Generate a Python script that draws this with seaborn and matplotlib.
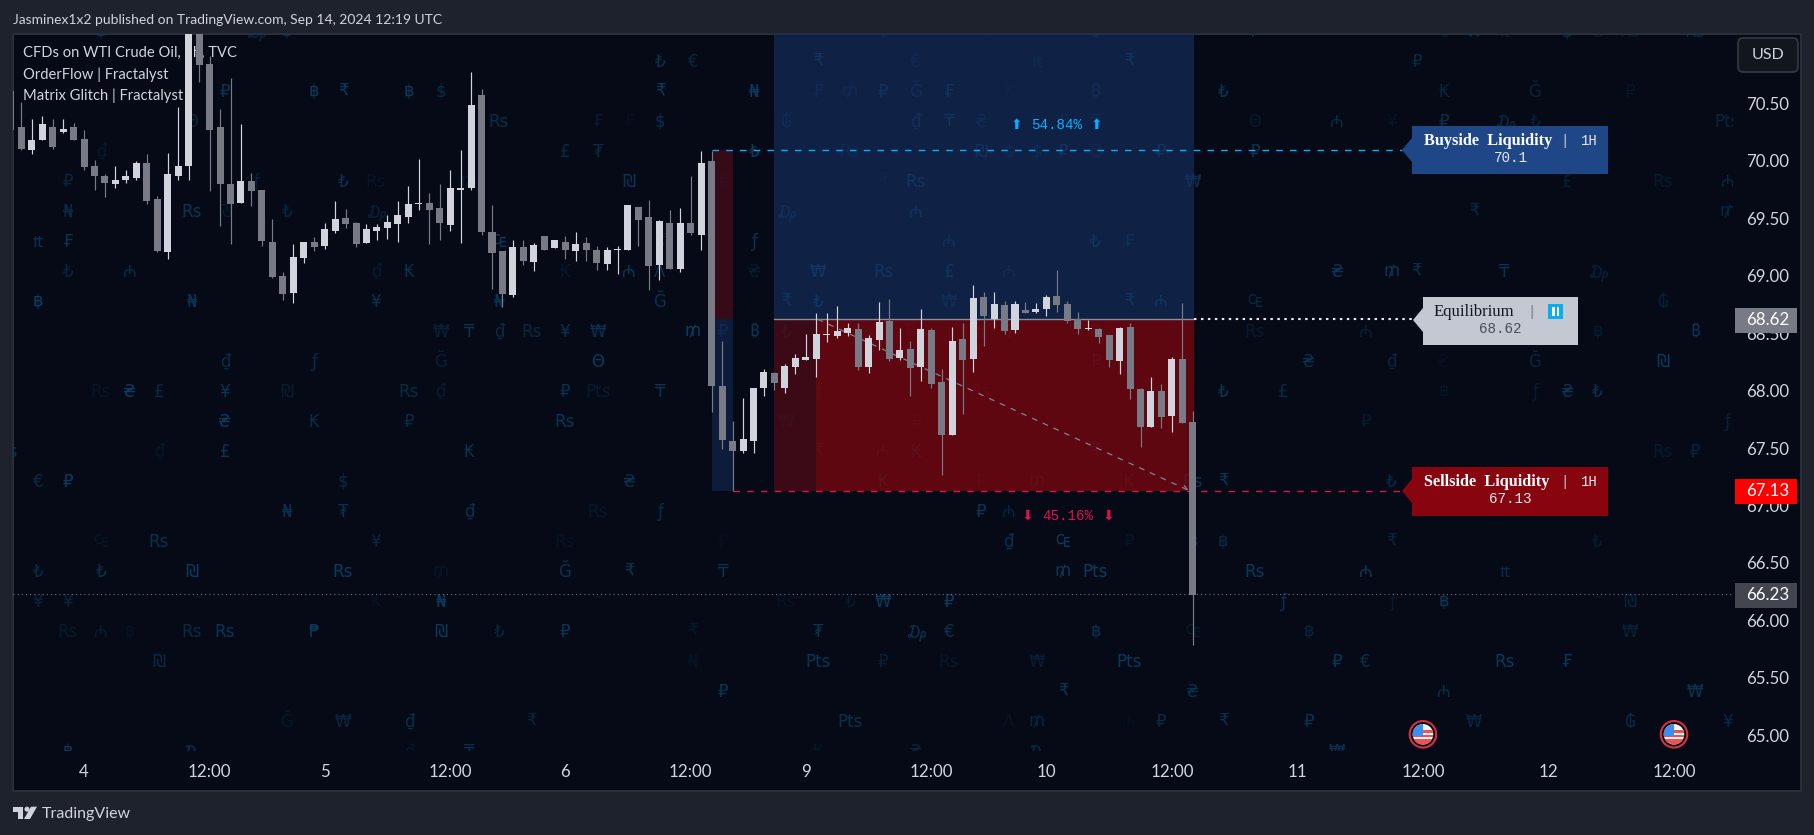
import numpy as np
import pandas as pd
import matplotlib
matplotlib.use("Agg")
import matplotlib.pyplot as plt
from matplotlib.patches import Rectangle, Polygon, Ellipse, FancyBboxPatch
from matplotlib.transforms import IdentityTransform
import seaborn as sns

# ---------- candle data (hourly WTI) ----------
OPENS = [70.61,
 70.29,70.09,70.177,70.298,70.255,70.29,70.194,69.951,69.872,69.794,69.829,69.846,69.977,69.664,69.203,69.872,
 69.951,71.3,70.846,70.29,69.794,69.637,69.82,69.75,69.29,68.994,68.846,69.151,69.29,69.255,69.385,69.498,69.455,
 69.281,69.385,69.411,69.446,69.507,69.62,69.629,69.585,69.437,69.742,69.759,70.576,69.376,69.211,68.829,69.246,
 69.115,69.342,69.237,69.289,69.211,69.281,69.22,69.098,69.22,69.22,69.602,69.507,69.089,69.463,69.055,69.463,
 69.35,69.994,68.037,67.559,67.472,67.559,68.02,68.15,68.02,68.202,68.263,68.272,68.481,68.472,68.498,68.533,
 68.203,68.437,68.603,68.281,68.359,68.203,68.524,68.072,67.611,68.446,68.272,68.811,68.62,68.742,68.524,68.698,
 68.681,68.707,68.82,68.75,68.62,68.533,68.533,68.481,68.255,68.55,68.011,67.681,67.994,67.776,68.272,67.724]
HIGHS = [70.61,
 70.516,70.36,70.394,70.36,70.368,70.333,70.264,70.011,69.881,69.959,69.924,69.994,70.055,69.69,70.064,70.472,
 71.4,71.4,70.916,70.455,70.724,70.316,69.89,69.75,69.49,69.029,69.272,69.29,69.333,69.455,69.646,69.577,69.464,
 69.446,69.446,69.524,69.646,69.785,70.02,69.724,69.794,69.924,70.098,70.776,70.629,69.611,69.211,69.307,69.307,
 69.281,69.342,69.315,69.342,69.376,69.333,69.255,69.246,69.255,69.611,69.602,69.655,69.481,69.568,69.585,69.872,
 70.081,70.089,68.429,67.733,67.933,68.02,68.185,68.159,68.229,68.315,68.49,68.672,68.672,68.733,68.585,68.585,
 68.481,68.768,68.794,68.542,68.429,68.707,68.542,68.185,68.55,68.585,68.916,68.855,68.855,68.776,68.776,68.768,
 68.759,68.829,69.046,68.776,68.681,68.611,68.542,68.481,68.55,68.585,68.02,68.116,68.055,68.289,68.759,67.82]
LOWS = [70.27,
 70.093,70.055,70.177,70.107,70.246,70.185,69.924,69.75,69.681,69.759,69.811,69.829,69.62,69.203,69.142,69.829,
 69.829,70.69,69.733,69.429,69.272,69.637,69.603,69.255,68.977,68.785,68.759,69.107,69.211,69.229,69.368,69.411,69.246,
 69.281,69.307,69.316,69.29,69.455,69.576,69.272,69.307,69.385,69.281,69.75,69.35,68.881,68.724,68.811,69.089,
 69.037,69.22,69.237,69.142,69.124,69.124,69.046,69.046,69.011,69.22,69.255,68.872,68.959,69.055,69.029,69.35,
 69.22,67.811,67.489,67.124,67.455,67.455,67.95,68.002,67.976,68.142,68.263,68.116,68.42,68.455,68.472,68.176,
 68.15,68.35,68.255,68.263,67.95,68.081,68.02,67.263,67.611,67.794,68.159,68.385,68.542,68.49,68.498,68.672,
 68.672,68.646,68.681,68.585,68.49,68.524,68.411,68.203,68.142,67.924,67.507,67.681,67.672,67.637,67.716,65.785]
CLOSES = [70.27,
 70.107,70.185,70.316,70.116,70.281,70.185,69.942,69.872,69.803,69.829,69.864,69.985,69.646,69.211,69.881,69.951,
 71.25,70.837,70.272,69.794,69.62,69.82,69.733,69.298,68.985,68.837,69.159,69.29,69.246,69.403,69.49,69.446,69.272,
 69.403,69.42,69.464,69.524,69.62,69.629,69.576,69.455,69.759,69.759,70.489,69.376,69.194,68.837,69.246,69.124,
 69.263,69.22,69.307,69.22,69.272,69.22,69.107,69.22,69.229,69.611,69.481,69.081,69.472,69.055,69.463,69.368,
 69.985,68.037,67.568,67.472,67.576,68.02,68.159,68.063,68.211,68.281,68.29,68.49,68.49,68.516,68.542,68.203,
 68.455,68.594,68.272,68.35,68.194,68.533,68.055,67.611,68.429,68.263,68.803,68.646,68.75,68.516,68.75,68.672,
 68.707,68.811,68.742,68.603,68.533,68.542,68.463,68.263,68.542,68.011,67.681,67.994,67.768,68.272,67.716,66.22]

# ---------- axis labels ----------
X_TICK_BARS = [6, 18, 29, 41, 52, 64, 75, 87, 98, 110, 122, 134, 146, 158]
X_TICK_LABELS = ["4", "12:00", "5", "12:00", "6", "12:00", "9", "12:00", "10", "12:00",
                 "11", "12:00", "12", "12:00"]
Y_TICKS = [65.0, 65.5, 66.0, 66.5, 67.0, 67.5, 68.0, 68.5, 69.0, 69.5, 70.0, 70.5]

# ---------- levels ----------
BUY_LEVEL = 70.09
EQ_LEVEL = 68.62
SELL_LEVEL = 67.13
LAST_PRICE = 66.23
BUY_PCT = "54.84%"
SELL_PCT = "45.16%"
EVENT_BARS = [134, 158]

# ---------- background currency glyphs: (column, sign, strength) per row ----------
GLYPH_COL_BARS = [1.6,4.46,7.62,10.39,13.16,16.3,19.47,22.44,25.4,28,30.75,33.9,37.07,40.1,42.8,45.67,48.8,
 51.98,55.13,58.1,61.06,64.2,67.1,70.05,73.1,76.17,79.2,82.4,85.5,88.69,91.75,94.4,97.1,99.6,102.7,105.9,108.96,
 112,114.9,117.9,120.6,123.1,125.8,128.5,131,133.4,136,138.9,141.8,144.7,147.8,150.7,153.8,156.9,160,163.1,-1.3]
GLYPH_ROWS = [
 [(2,"฿",.7),(7,"₯",.5),(8,"฿",.6),(27,"₸",.5),(30,"₹",.5),(34,"₿",.5),(39,"₽",.6),(46,"₿",.3),(47,"₩",.5),(48,"₶",.4),(50,"$",.6),(51,"Θ",.3),(52,"Rs",.35),(54,"Rs",.6)],
 [(20,"₺",.7),(21,"€",.5),(25,"₹",.9),(28,"€",.35),(32,"₶",.35),(35,"₹",.9),(45,"₽",.6)],
 [(6,"₽",.8),(9,"฿",.9),(10,"₹",.9),(12,"฿",.9),(13,"$",.6),(20,"₹",.9),(23,"₦",.9),(25,"₣",.45),(26,"₥",.35),(27,"₽",.8),(28,"Ğ",.5),(29,"₣",.8),(31,"₭",.15),(34,"₿",.45),(38,"₺",.8),(46,"₭",.5),(49,"Ğ",.45),(52,"₽",.2)],
 [(5,"Θ",.5),(15,"Rs",.65),(18,"₣",.3),(19,"₣",.1),(20,"$",.65),(24,"₲",.5),(28,"₫",.6),(29,"₸",.8),(30,"₴",.4),(33,"₣",.3),(34,"₸",.4),(39,"Θ",.3),(42,"₼",.6),(44,"¥",.2),(46,"₽",.7),(48,"₯",.6),(49,"₺",.4),(55,"Pts",.5)],
 [(2,"₫",.25),(17,"£",.6),(18,"₮",.6),(23,"₺",.9),(26,"Rs",.4),(30,"₪",.7),(31,"$",.35),(32,"$",.5),(33,"₽",.8),(34,"Θ",.35),(36,"₽",.8),(39,"₽",.8)],
 [(1,"₽",.5),(7,"ƒ",.4),(10,"₺",.7),(11,"Rs",.2),(14,"₥",.25),(19,"₪",.8),(22,"€",.5),(27,"₹",.15),(28,"Rs",.85),(37,"₩",.7),(50,"£",.4),(53,"Rs",.3),(55,"₼",.5)],
 [(1,"₦",.6),(5,"Rs",.8),(6,"₪",.3),(8,"₺",.5),(11,"₯",.4),(24,"₯",.55),(28,"₼",.8),(47,"₹",.6),(55,"₥",.5)],
 [(0,"₶",.7),(1,"₣",.8),(15,"₠",.9),(20,"₹",.3),(23,"ƒ",.7),(29,"₼",.6),(34,"₺",.8),(35,"₣",.6)],
 [(1,"₺",.5),(3,"₼",.6),(11,"₫",.3),(12,"₭",.7),(17,"₭",.2),(19,"₼",.8),(20,"Λ",.7),(23,"₴",.3),(25,"₩",.9),(27,"Rs",.8),(29,"£",.8),(31,"₼",.4),(42,"₴",.8),(44,"₥",.8),(45,"₹",.7),(48,"₸",.8),(51,"₯",.4)],
 [(0,"฿",1),(5,"₦",.8),(11,"¥",.7),(15,"₦",.8),(20,"Ğ",.7),(24,"₹",.8),(25,"₺",.9),(29,"₩",.55),(35,"₹",.9),(36,"₼",.9),(39,"₠",.55),(53,"₲",.4)],
 [(13,"₩",.4),(14,"₸",.8),(15,"₫",.6),(16,"Rs",.55),(17,"¥",.7),(18,"₩",.7),(21,"₥",.9),(22,"₽",.9),(23,"₿",.8),(24,"₺",.6),(28,"Rs",.3),(29,"₸",.3),(30,"₶",.5),(31,"₴",.4),(34,"₴",.4),(39,"Rs",.3),(43,"₼",.35),(50,"₽",.1),(51,"฿",.35),(54,"₿",.8)],
 [(6,"₫",.6),(9,"ƒ",.6),(13,"Ğ",.4),(18,"Θ",.9),(34,"₽",.5),(35,"₽",.3),(41,"₴",.7),(44,"₫",.5),(46,"₴",.1),(49,"Ğ",.5),(53,"₪",.9)],
 [(2,"Rs",.2),(3,"₴",.9),(4,"£",.6),(6,"¥",.8),(8,"₪",.35),(12,"Rs",.6),(13,"₫",.3),(17,"₽",.7),(18,"Pts",.3),(20,"₸",.8),(25,"ƒ",.4),(30,"Rs",.3),(31,"₽",.1),(38,"₺",.8),(40,"£",.6),(46,"฿",.2),(49,"ƒ",.3),(50,"₴",.8),(51,"₺",.7)],
 [(6,"₴",.9),(9,"₭",.6),(12,"₽",.6),(17,"Rs",.8),(24,"₩",.45),(28,"₽",.3),(43,"₽",.3),(55,"ƒ",.4)],
 [(56,"Rs",.7),(4,"₫",.2),(6,"£",.8),(14,"₭",.7),(25,"₹",.6),(27,"₼",.5),(28,"₭",.7),(34,"₹",.6),(53,"Rs",.3),(54,"₽",.45)],
 [(0,"€",.6),(1,"₽",.9),(10,"$",.6),(19,"₴",.7),(27,"₭",.7),(30,"₽",.2),(32,"₥",.5),(35,"₭",.5),(37,"Rs",.8),(38,"₹",.8),(44,"₺",.55)],
 [(8,"₦",.7),(10,"₮",.7),(14,"₫",.7),(18,"Rs",.25),(20,"ƒ",.6),(30,"₽",.8),(31,"₼",.5),(49,"₽",.1)],
 [(2,"₠",.2),(4,"Rs",.7),(11,"¥",.5),(17,"Rs",.15),(22,"₽",.1),(31,"₫",.7),(33,"₠",.9),(35,"₽",.2),(37,"฿",.5),(38,"฿",.6),(44,"₹",.5),(51,"₺",.3)],
 [(0,"₺",.6),(2,"₺",.7),(5,"₪",.9),(10,"Rs",.9),(13,"₥",.2),(17,"Ğ",.7),(19,"₹",.8),(22,"₸",.8),(33,"₥",.8),(34,"Pts",.9),(39,"Rs",.85),(43,"₼",.8),(48,"₶",.6)],
 [(0,"¥",.5),(1,"¥",.5),(11,"₭",.15),(13,"₦",.9),(24,"Rs",.15),(26,"₺",.3),(27,"₩",.9),(29,"₽",.9),(40,"ƒ",.7),(44,"ƒ",.3),(46,"฿",.85),(52,"₪",.5)],
 [(1,"Rs",.3),(2,"₼",.35),(3,"฿",.15),(5,"Rs",.6),(6,"Rs",.8),(9,"₱",.9),(13,"₪",.9),(15,"₺",.5),(17,"₽",.8),(21,"₹",.25),(25,"₮",.8),(28,"₯",.7),(29,"€",.7),(34,"฿",.7),(37,"₠",.3),(41,"฿",.5),(52,"₩",.4)],
 [(4,"₪",.6),(21,"₦",.15),(25,"Pts",.8),(27,"₽",.4),(29,"Rs",.25),(32,"₩",.35),(35,"Pts",.85),(42,"₽",.8),(43,"€",.65),(48,"Rs",.85),(50,"₣",.85)],
 [(22,"₽",.8),(33,"₹",.8),(37,"₴",.7),(46,"₼",.65),(54,"₩",.75)],
 [(8,"Ğ",.25),(10,"₩",.5),(12,"₫",.65),(16,"₹",.5),(26,"Pts",.7),(31,"Λ",.2),(32,"₥",.5),(35,"₼",.1),(36,"₽",.6),(38,"₹",.7),(41,"₽",.75),(47,"₩",.5),(52,"₲",.6),(55,"¥",.6)],
 [(1,"฿",.9),(5,"₯",.7),(12,"₫",.2),(14,"₸",.7),(25,"₭",.2),(28,"₴",.5),(32,"₯",.6),(42,"₩",.7)],
]
GLYPH_TOP_PRICE = 71.122
GLYPH_ROW_STEP = 0.2611

# ---------- palette ----------
OUTER = "#1e222d"; FRAME = "#2a2e39"; PANE = "#050a16"
UP = "#d1d4dc"; DOWN = "#787b86"; TXT = "#d1d4dc"
CYAN = "#0aaeff"; CRIM = "#e0104f"

sns.set_theme(style="dark", rc={"lines.scale_dashes": False, "axes.grid": False})
plt.rcParams["font.family"] = ["Lato", "DejaVu Sans"]

W, H = 1814, 835
fig = plt.figure(figsize=(W / 100, H / 100), dpi=100, facecolor=OUTER)
PL, PR, PT, PB = 13, 1733, 34, 751
ax = fig.add_axes([PL / W, 1 - PB / H, (PR - PL) / W, (PB - PT) / H], facecolor="none")

def X(px):  # picture x -> bar position
    return (px - 21.3) / 10.46
def Y(py):  # picture y -> price
    return 70 - (py - 160.8) / 114.9

fig.add_artist(Rectangle((12.5 / W, 1 - 790.5 / H), 1788 / W, 757 / H, transform=fig.transFigure,
                         fc=PANE, ec=FRAME, lw=1.4, zorder=-5))

# --- background glyphs
for r, row in enumerate(GLYPH_ROWS):
    for col, ch, lvl in row:
        ax.text(GLYPH_COL_BARS[col], GLYPH_TOP_PRICE - r * GLYPH_ROW_STEP, ch, ha="center", va="center",
                fontsize=12, color="#0c4a73", alpha=min(1, lvl * 0.85), zorder=1, clip_on=True,
                parse_math=False, family=["DejaVu Sans", "Noto Sans"])

# --- legend text behind the candles
for py, s in [(53, "CFDs on WTI Crude Oil, 1h, TVC"), (74.5, "OrderFlow | Fractalyst"),
              (95.5, "Matrix Glitch | Fractalyst")]:
    ax.text(X(23), Y(py), s, color=TXT, fontsize=10.6, va="center", ha="left", zorder=1.5)

# --- zones
def zone(b0, b1, p0, p1, fc, alpha):
    ax.add_patch(Rectangle((b0, p0), b1 - b0, p1 - p0, fc=fc, ec="none", alpha=alpha, zorder=2))
zone(X(711.7), X(732.7), EQ_LEVEL, BUY_LEVEL, "#430a18", .8)
zone(X(711.7), X(732.7), SELL_LEVEL, EQ_LEVEL, "#12244d", .7)
zone(X(774), X(1194), EQ_LEVEL, Y(PT), "#173266", .6)
zone(X(774), X(816), SELL_LEVEL, EQ_LEVEL, "#4a0a16", .8)
zone(X(816), X(1194), SELL_LEVEL, EQ_LEVEL, "#7d060e", .75)

# --- levels
ax.plot([X(712), X(1402)], [BUY_LEVEL] * 2, color=CYAN, lw=1.0, dashes=(4.7, 5.2), zorder=3)
ax.plot([X(733), X(1402)], [SELL_LEVEL] * 2, color=CRIM, lw=1.0, dashes=(4.7, 5.2), zorder=3)
ax.plot([X(774), X(1194)], [EQ_LEVEL] * 2, color="#8a8e99", lw=1.0, zorder=3)
ax.plot([X(1194), X(1413)], [EQ_LEVEL] * 2, color="#e6e8ee", lw=1.5, dashes=(1.8, 3.2), zorder=3)
ax.plot([X(PL), X(PR)], [LAST_PRICE] * 2, color="#6a6e7a", lw=0.8, dashes=(0.8, 2.2), zorder=3)
ax.annotate("", xy=(X(1189), SELL_LEVEL), xytext=(X(818), EQ_LEVEL), zorder=3,
            arrowprops=dict(arrowstyle="->", color="#80848f", lw=0.9, linestyle=(0, (3.5, 5)),
                            mutation_scale=9, shrinkA=0, shrinkB=0))

# --- candles
df = pd.DataFrame({"o": OPENS, "h": HIGHS, "l": LOWS, "c": CLOSES})
df["bar"] = np.arange(len(df)) - 1
df["top"] = df[["o", "c"]].max(axis=1)
df["bot"] = df[["o", "c"]].min(axis=1)
df["height"] = df["top"] - df["bot"]
df["rising"] = df["c"] >= df["o"]
wicks = ax.vlines(df["bar"], df["l"], df["h"], colors=[UP if r else DOWN for r in df["rising"]],
                  linewidth=0.85, zorder=4)
wicks.set_snap(True)
for rising, col in [(True, UP), (False, DOWN)]:
    part = df[df["rising"] == rising]
    sns.barplot(data=part, x="bar", y="height", bottom=part["bot"].to_numpy(), orient="x", native_scale=True,
                color=col, saturation=1, width=0.67, errorbar=None, linewidth=0, zorder=5, ax=ax,
                antialiased=False)

# --- percent labels
MONO = ["Liberation Mono", "DejaVu Sans Mono"]
ax.text(X(1057), Y(125), BUY_PCT, color=CYAN, fontsize=10.3, family=MONO, ha="center", va="center", zorder=3)
ax.text(X(1068), Y(516), SELL_PCT, color=CRIM, fontsize=10.3, family=MONO, ha="center", va="center", zorder=3)
for px, py, ch, c in [(1016.7, 125, "⬆", CYAN), (1096.7, 125, "⬆", CYAN), (1027, 516, "⬇", CRIM), (1108, 516, "⬇", CRIM)]:
    ax.text(X(px), Y(py), ch, color=c, fontsize=10, family="DejaVu Sans", ha="center", va="center", zorder=3)

# --- callouts
def callout(x0, x1, y0, y1, tip_x, tip_y, fc):
    pts = [(tip_x, tip_y), (x0, tip_y - 12), (x0, y0), (x1, y0), (x1, y1), (x0, y1), (x0, tip_y + 12)]
    ax.add_patch(Polygon([(X(a), Y(b)) for a, b in pts], closed=True, fc=fc, ec="none", zorder=6, clip_on=False))
SERIF = ["Liberation Serif", "DejaVu Serif"]
callout(1412, 1608, 126, 174, 1402, 150, "#1f4788")
callout(1412, 1608, 467, 516, 1402, 491, "#88050f")
callout(1423, 1578, 297, 345, 1413, 320, "#c4c8d3")
for y, title, val in [(141.3, "Buyside  Liquidity", f"{70.1}"), (482, "Sellside  Liquidity", f"{SELL_LEVEL:.2f}")]:
    ax.text(X(1424), Y(y), title, color="white", fontsize=11.7, weight="bold", family=SERIF, va="center", zorder=7, clip_on=False)
    ax.text(X(1565), Y(y), "|", color="#c8ccd6", fontsize=10, family=MONO, ha="center", va="center", zorder=7, clip_on=False)
    ax.text(X(1589), Y(y), "1H", color="#e6e8ee", fontsize=10, family=MONO, ha="center", va="center", zorder=7, clip_on=False)
    ax.text(X(1510.7), Y(y + 17), val, color="#e6e8ee", fontsize=10.3, family=MONO, ha="center", va="center", zorder=7, clip_on=False)
ax.text(X(1434), Y(312), "Equilibrium", color="#131722", fontsize=12, family=SERIF, va="center", zorder=7, clip_on=False)
ax.text(X(1532), Y(312), "|", color="#787b86", fontsize=10, family=MONO, ha="center", va="center", zorder=7, clip_on=False)
ax.text(X(1500), Y(329.5), f"{EQ_LEVEL:.2f}", color="#4a4e5a", fontsize=10.3, family=MONO, ha="center", va="center", zorder=7, clip_on=False)
ax.add_patch(Rectangle((X(1548), Y(319)), X(1563) - X(1548), Y(304) - Y(319), fc="#0aaef0", ec="none", zorder=7, clip_on=False))
for a in (1552.5, 1556.5):
    ax.add_patch(Rectangle((X(a), Y(316)), X(a + 2.2) - X(a), Y(307) - Y(316), fc="white", ec="none", zorder=8, clip_on=False))

# --- price scale
ax.set_xlim(X(PL), X(PR))
ax.set_ylim(Y(PB), Y(PT))
ax.set_xlabel(""); ax.set_ylabel("")
ax.yaxis.tick_right()
ax.set_yticks(Y_TICKS, [f"{v:.2f}" for v in Y_TICKS])
ax.set_xticks(X_TICK_BARS, X_TICK_LABELS)
ax.tick_params(axis="y", length=0, pad=9.4, labelsize=12.2, labelcolor=TXT)
ax.tick_params(axis="x", length=0, pad=9.5, labelsize=12.2, labelcolor=TXT)
for s in ax.spines.values():
    s.set_visible(False)
ax.grid(False)

for price, label, fc, cy in [(EQ_LEVEL, f"{EQ_LEVEL:.2f}", DOWN, 320.5), (SELL_LEVEL, f"{SELL_LEVEL:.2f}", "#ff0000", 491.5),
                             (LAST_PRICE, f"{LAST_PRICE:.2f}", "#434651", 595.5)]:
    ax.add_patch(Rectangle((X(1735), Y(cy + 12.5)), X(1797) - X(1735), Y(cy - 12.5) - Y(cy + 12.5),
                           fc=fc, ec="none", zorder=8, clip_on=False))
    ax.text(X(1746), Y(cy), label, color="white", fontsize=12.2, va="center", ha="left", zorder=9, clip_on=False)

# --- USD button
ax.add_patch(FancyBboxPatch((1738, H - 72), 60, 34, boxstyle="round,pad=0,rounding_size=5",
                            transform=IdentityTransform(), fc="#12161f", ec="#363a45", lw=1.2, zorder=8, clip_on=False))
ax.text(X(1768), Y(55), "USD", color=TXT, fontsize=11.5, ha="center", va="center", zorder=9, clip_on=False)

# --- event flags
for bar in EVENT_BARS:
    cx, cy = 21.3 + 10.46 * bar, 734.3
    ax.add_patch(Ellipse((bar, Y(cy)), 26.5 / 10.46, 26.5 / 114.9, fc=PANE, ec="#d62f3f", lw=1.5, zorder=6, clip_on=False))
    disc = Ellipse((bar, Y(cy)), 20.5 / 10.46, 20.5 / 114.9, fc="#f4f5f7", ec="none", zorder=6.1, clip_on=False)
    ax.add_patch(disc)
    for yy, hh in [(cy - 4, 2.2), (cy + 0.5, 2.4), (cy + 5, 5.5)]:
        st = Rectangle((X(cx - 11), Y(yy + hh)), X(cx + 11) - X(cx - 11), Y(yy) - Y(yy + hh), fc="#ef5350", ec="none", zorder=6.2)
        ax.add_patch(st); st.set_clip_path(disc)
    cant = Rectangle((X(cx - 11), Y(cy + 1.5)), X(cx + 0.5) - X(cx - 11), Y(cy - 11) - Y(cy + 1.5), fc="#3d8ef0", ec="none", zorder=6.3)
    ax.add_patch(cant); cant.set_clip_path(disc)

# --- header and footer
fig.text(13 / W, 1 - 20 / H, "Jasminex1x2 published on TradingView.com, Sep 14, 2024 12:19 UTC",
         color=TXT, fontsize=10.0, va="center", ha="left")
fig.text(42 / W, 1 - 814 / H, "TradingView", color=TXT, fontsize=11.5, va="center", ha="left")
def P(pts):
    return Polygon([(a / W, 1 - b / H) for a, b in pts], closed=True, transform=fig.transFigure, fc=TXT, ec="none")
fig.add_artist(P([(12.5, 806.7), (23, 806.7), (23, 819), (17.5, 819), (17.5, 811.5), (12.5, 811.5)]))
fig.add_artist(P([(31, 806.7), (37, 806.7), (30, 819), (24, 819)]))
fig.add_artist(Ellipse((27 / W, 1 - 809.2 / H), 5 / W, 5 / H, transform=fig.transFigure, fc=TXT, ec="none"))

fig.savefig("out.png", dpi=100, facecolor=OUTER)
